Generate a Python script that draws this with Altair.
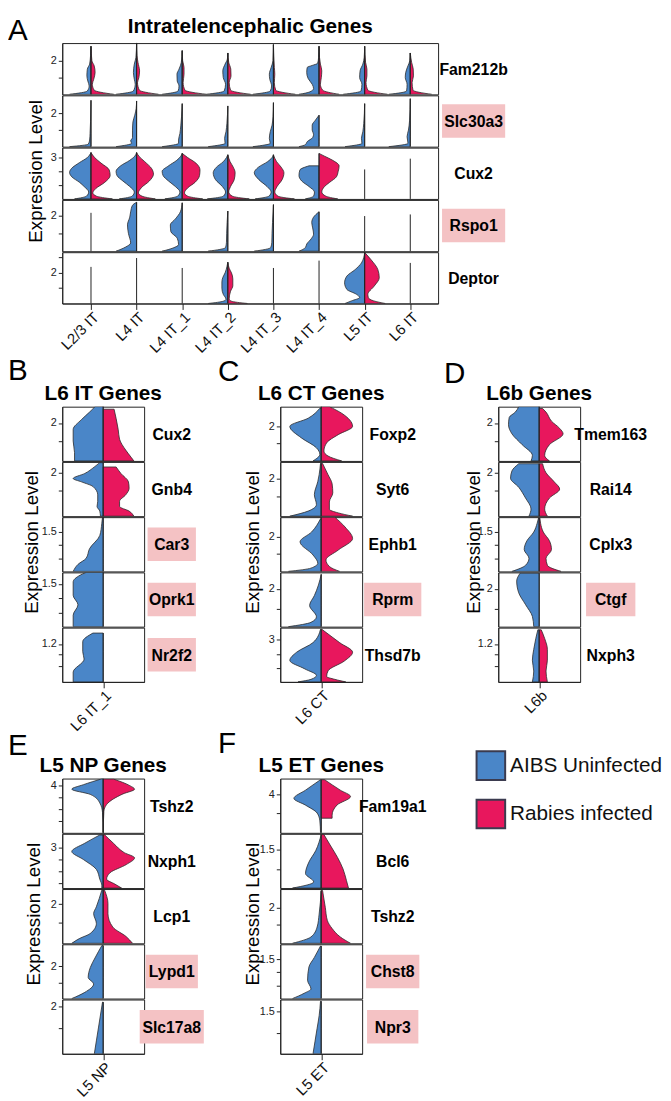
import json
import altair as alt
import pandas as pd

BLUE = "#4A86C8"
RED = "#E8175D"
PINK = "#F4C2C4"
INK = "#222222"
OUTLINE = "#2b2b2b"
FONT = "Liberation Sans"
GROUPS = ["AIBS Uninfected", "Rabies infected"]

# ---------------- Panel A ----------------
A_CLUSTERS = ["L2/3 IT", "L4 IT", "L4 IT_1", "L4 IT_2", "L4 IT_3", "L4 IT_4", "L5 IT", "L6 IT"]
A_GENES = ["Fam212b", "Slc30a3", "Cux2", "Rspo1", "Deptor"]
A_BOXES = {"Slc30a3": 64, "Rspo1": 64}
# gene: (low, high, tick values, labelled tick)
A_AXES = {
    "Fam212b": (0, 3.05, [1, 2], "2"),
    "Slc30a3": (0, 3.1, [1, 2], "2"),
    "Cux2": (1.5, 3.36, [2, 2.5, 3], "3"),
    "Rspo1": (0, 2.86, [1, 2], "2"),
    "Deptor": (0, 3.35, [1, 2, 3], "2"),
}
# violins: gene -> cluster -> (blue half [(level, width)], red half or None)
A_VIOLINS = {
    "Fam212b": {
        "L2/3 IT": ([(0, .47), (.2, .08), (.5, .04), (.8, .07), (1.1, .09), (1.5, .08), (1.8, .03), (2.3, .01), (2.86, 0)],
                    [(0, .5), (.25, .07), (.6, .03), (.9, .06), (1.3, .09), (1.7, .07), (2.0, .02), (2.86, 0)]),
        "L4 IT": ([(0, .45), (.2, .07), (.6, .03), (.9, .05), (1.3, .07), (1.8, .05), (2.2, .015), (3.06, 0)],
                  [(0, .48), (.25, .06), (.7, .02), (1.0, .05), (1.4, .065), (1.9, .03), (2.3, .01), (3.06, 0)]),
        "L4 IT_1": ([(0, .44), (.2, .09), (.5, .07), (.8, .11), (1.2, .115), (1.5, .07), (1.9, .02), (2.6, 0)],
                    [(0, .53), (.25, .06), (.7, .02), (1.2, .04), (1.6, .04), (2.0, .01), (2.6, 0)]),
        "L4 IT_2": ([(0, .47), (.2, .08), (.6, .05), (1.0, .1), (1.4, .11), (1.8, .06), (2.1, .01), (2.46, 0)],
                    [(0, .5), (.25, .06), (.7, .03), (1.1, .07), (1.5, .065), (1.9, .02), (2.46, 0)]),
        "L4 IT_3": ([(0, .45), (.2, .07), (.5, .04), (.9, .08), (1.2, .09), (1.6, .05), (2.0, .01), (2.96, 0)],
                    [(0, .48), (.25, .05), (.7, .02), (1.2, .03), (1.6, .02), (2.96, 0)]),
        "L4 IT_4": ([(0, .44), (.15, .2), (.35, .12), (.6, .15), (.95, .24), (1.3, .27), (1.6, .26), (1.72, .15), (1.85, .03), (2.2, .01), (2.86, 0)],
                    [(0, .44), (.25, .08), (.6, .03), (1.0, .05), (1.4, .06), (1.8, .03), (2.2, .01), (2.86, 0)]),
        "L5 IT": ([(0, .47), (.2, .08), (.6, .06), (1.0, .11), (1.4, .1), (1.8, .04), (2.2, .01), (2.86, 0)],
                  [(0, .5), (.25, .07), (.7, .03), (1.1, .05), (1.5, .05), (1.9, .02), (2.86, 0)]),
        "L6 IT": ([(0, .47), (.2, .08), (.6, .07), (1.0, .11), (1.3, .1), (1.7, .05), (2.0, .01), (2.46, 0)],
                  [(0, .47), (.25, .06), (.7, .04), (1.1, .07), (1.5, .065), (1.9, .03), (2.46, 0)]),
    },
    "Slc30a3": {
        "L2/3 IT": ([(0, .47), (.15, .06), (.4, .03), (.8, .02), (1.5, .01), (2.8, 0)], None),
        "L4 IT": ([(0, .45), (.2, .11), (.35, .13), (.55, .09), (1.0, .09), (1.5, .08), (1.9, .04), (2.3, .01), (2.76, 0)], None),
        "L4 IT_1": ([(0, .44), (.2, .08), (.4, .08), (.8, .05), (1.3, .03), (1.8, .015), (2.6, 0)], None),
        "L4 IT_2": ([(0, .43), (.2, .06), (.5, .07), (.9, .04), (1.4, .02), (2.46, 0)], None),
        "L4 IT_3": ([(0, .45), (.2, .07), (.5, .09), (.9, .07), (1.3, .03), (1.8, .01), (2.66, 0)], None),
        "L4 IT_4": ([(0, .44), (.12, .3), (.3, .26), (.55, .14), (.75, .12), (1.0, .15), (1.3, .15), (1.6, .08), (1.9, 0)], None),
        "L5 IT": ([(0, .43), (.2, .06), (.5, .07), (.9, .04), (1.4, .02), (2.6, 0)], None),
        "L6 IT": ([(0, .47), (.2, .05), (.6, .07), (1.0, .04), (1.6, .015), (2.9, 0)], None),
    },
    "Cux2": {
        "L2/3 IT": ([(1.5, .36), (1.6, .1), (1.75, .05), (1.95, .15), (2.1, .25), (2.3, .42), (2.46, .47), (2.6, .43), (2.82, .25), (3.0, .08), (3.18, 0)],
                    [(1.5, .47), (1.6, .12), (1.72, .04), (1.87, .1), (2.1, .3), (2.35, .42), (2.55, .4), (2.8, .22), (3.0, .08), (3.18, 0)]),
        "L4 IT": ([(1.5, .38), (1.6, .1), (1.75, .05), (1.95, .15), (2.15, .3), (2.35, .43), (2.5, .45), (2.7, .35), (2.9, .15), (3.05, .04), (3.18, 0)],
                  [(1.5, .41), (1.6, .12), (1.72, .04), (1.9, .1), (2.15, .28), (2.4, .37), (2.6, .33), (2.85, .18), (3.05, .05), (3.18, 0)]),
        "L4 IT_1": ([(1.5, .38), (1.6, .1), (1.75, .05), (1.95, .15), (2.15, .3), (2.35, .42), (2.5, .44), (2.7, .3), (2.9, .12), (3.05, .03), (3.15, 0)],
                    [(1.5, .45), (1.6, .12), (1.72, .05), (1.9, .12), (2.1, .28), (2.35, .38), (2.55, .39), (2.8, .3), (3.0, .12), (3.15, 0)]),
        "L4 IT_2": ([(1.5, .45), (1.6, .1), (1.75, .05), (1.95, .12), (2.2, .27), (2.45, .32), (2.65, .25), (2.85, .1), (3.0, .03), (3.1, 0)],
                    [(1.5, .47), (1.6, .1), (1.75, .02), (1.95, .06), (2.2, .14), (2.45, .16), (2.65, .12), (2.85, .05), (3.1, 0)]),
        "L4 IT_3": ([(1.5, .4), (1.6, .1), (1.75, .05), (1.95, .14), (2.2, .32), (2.45, .42), (2.65, .33), (2.85, .13), (3.0, .03), (3.1, 0)],
                    [(1.5, .46), (1.6, .1), (1.75, .03), (1.95, .08), (2.2, .19), (2.45, .23), (2.65, .17), (2.85, .07), (3.1, 0)]),
        "L4 IT_4": ([(1.5, .3), (1.6, .12), (1.75, .1), (1.95, .22), (2.15, .38), (2.35, .44), (2.55, .42), (2.7, .22)],
                    [(1.5, .41), (1.6, .15), (1.75, .06), (1.95, .12), (2.1, .23), (2.3, .38), (2.5, .42), (2.7, .44), (2.9, .3), (3.05, .12), (3.15, 0)]),
    },
    "Rspo1": {
        "L4 IT": ([(0, .45), (.22, .25), (.46, .13), (1.0, .18), (1.47, .2), (1.9, .15), (2.2, .13), (2.56, .09), (2.73, 0)], None),
        "L4 IT_1": ([(0, .44), (.18, .2), (.37, .08), (.73, .11), (1.1, .25), (1.47, .26), (1.8, .15), (2.2, .04), (2.7, 0)], None),
        "L4 IT_2": ([(0, .43), (.2, .05), (.5, .03), (1.0, .025), (1.6, .015), (2.24, 0)], None),
        "L4 IT_3": ([(0, .42), (.2, .06), (.5, .035), (1.0, .03), (1.6, .02), (2.6, 0)], None),
        "L4 IT_4": ([(0, .44), (.2, .3), (.4, .27), (.7, .17), (.95, .12), (1.3, .14), (1.6, .16), (1.9, .12), (2.2, 0)], None),
    },
    "Deptor": {
        "L4 IT_2": ([(0, .43), (.15, .1), (.28, .04), (.6, .1), (1.0, .13), (1.4, .13), (1.7, .11), (2.0, .06), (2.4, .02), (2.69, 0)],
                    [(0, .43), (.15, .08), (.3, .03), (.8, .06), (1.16, .11), (1.6, .11), (2.0, .08), (2.3, .03), (2.69, 0)]),
        "L5 IT": ([(0, .43), (.17, .29), (.39, .11), (.6, .18), (.92, .39), (1.35, .44), (1.79, .39), (2.21, .21), (2.65, .07), (3.0, .02), (3.33, 0)],
                  [(0, .45), (.17, .2), (.39, .08), (.6, .07), (1.14, .21), (1.68, .32), (2.21, .29), (2.86, .14), (3.33, 0)]),
    },
}
# clusters with no expression: only the centre line, up to this level
A_LINES = {
    "Cux2": {"L5 IT": 2.57, "L6 IT": 2.96},
    "Rspo1": {"L2/3 IT": 2.14, "L5 IT": 1.96, "L6 IT": 2.05},
    "Deptor": {"L2/3 IT": 2.39, "L4 IT": 2.97, "L4 IT_1": 2.32, "L4 IT_3": 2.32, "L4 IT_4": 2.8, "L6 IT": 2.65},
}

# ---------------- Panel B ----------------
B_CLUSTER = "L6 IT_1"
B_GENES = ["Cux2", "Gnb4", "Car3", "Oprk1", "Nr2f2"]
B_BOXES = {"Car3": 49, "Oprk1": 49, "Nr2f2": 49}
B_AXES = {
    "Cux2": (0.95, 2.45, [1.5, 2.0], "2"),
    "Gnb4": (0.8, 2.3, [1.5, 2.0], "2"),
    "Car3": (1.05, 1.67, [1.2, 1.35, 1.5], "1.5"),
    "Oprk1": (1.05, 1.62, [1.2, 1.35, 1.5], "1.5"),
    "Nr2f2": (0.85, 1.35, [1.0, 1.1, 1.2], "1.2"),
}
B_VIOLINS = {
    "Cux2": ([(0.95, .42), (1.18, .42), (1.5, .44), (1.82, .44), (2.09, .32), (2.3, .2), (2.45, .12)],
             [(0.95, .45), (1.05, .41), (1.25, .33), (1.55, .24), (1.82, .22), (2.12, .19), (2.38, .16)]),
    "Gnb4": ([(0.8, .04), (0.94, .05), (1.07, .09), (1.21, .08), (1.39, .08), (1.62, .15), (1.75, .32), (1.84, .44), (1.98, .27), (2.16, .13), (2.28, .05)],
             [(0.8, .45), (0.94, .38), (1.07, .24), (1.21, .24), (1.39, .33), (1.57, .38), (1.75, .37), (1.98, .26), (2.16, .19)]),
    "Car3": ([(1.05, .44), (1.13, .37), (1.2, .25), (1.31, .2), (1.46, .05), (1.6, .02), (1.67, .01)], None),
    "Oprk1": ([(1.05, .44), (1.17, .44), (1.28, .37), (1.38, .44), (1.52, .44), (1.59, .34), (1.62, .25)], None),
    "Nr2f2": ([(0.85, .44), (0.94, .44), (1.06, .28), (1.13, .3), (1.22, .3), (1.3, .15)], None),
}

# ---------------- Panel C ----------------
C_CLUSTER = "L6 CT"
C_GENES = ["Foxp2", "Syt6", "Ephb1", "Rprm", "Thsd7b"]
C_BOXES = {"Rprm": 58}
C_AXES = {
    "Foxp2": (0.95, 2.6, [1.5, 2.0], "2"),
    "Syt6": (0.96, 2.45, [1.5, 2.0], "2"),
    "Ephb1": (0.95, 2.6, [1.5, 2.0], "2"),
    "Rprm": (1.04, 2.42, [1.5, 2.0], "2"),
    "Thsd7b": (1.51, 3.43, [2.0, 2.5, 3.0], "3"),
}
C_VIOLINS = {
    "Foxp2": ([(0.95, .12), (1.15, .02), (1.35, .07), (1.65, .29), (2.0, .46), (2.25, .19), (2.55, .02)],
              [(0.95, .3), (1.1, .1), (1.25, .04), (1.5, .08), (1.75, .25), (2.0, .46), (2.4, .3), (2.6, .12)]),
    "Syt6": ([(0.96, .46), (1.1, .19), (1.28, .07), (1.55, .1), (1.91, .05), (2.1, .03), (2.41, .01)],
             [(0.96, .46), (1.05, .25), (1.15, .12), (1.35, .12), (1.6, .17), (1.85, .16), (2.1, .1), (2.41, .02)]),
    "Ephb1": ([(0.95, .48), (1.05, .15), (1.2, .05), (1.45, .12), (1.85, .31), (2.15, .14), (2.55, .01)],
              [(0.95, .27), (1.1, .12), (1.3, .07), (1.6, .25), (1.95, .46), (2.3, .35), (2.6, .2)]),
    "Rprm": ([(1.04, .48), (1.15, .15), (1.29, .07), (1.58, .17), (1.83, .1), (2.1, .04), (2.37, 0)], None),
    "Thsd7b": ([(1.51, .34), (1.6, .15), (1.74, .07), (1.97, .24), (2.27, .46), (2.56, .36), (2.9, .12), (3.37, .01)],
               [(1.51, .36), (1.6, .2), (1.7, .08), (1.9, .1), (2.25, .34), (2.56, .46), (2.9, .27), (3.37, .01)]),
}

# ---------------- Panel D ----------------
D_CLUSTER = "L6b"
D_GENES = ["Tmem163", "Rai14", "Cplx3", "Ctgf", "Nxph3"]
D_BOXES = {"Ctgf": 50}
D_AXES = {
    "Tmem163": (0.95, 2.45, [1.5, 2.0], "2"),
    "Rai14": (0.8, 2.3, [1.5, 2.0], "2"),
    "Cplx3": (1.05, 1.67, [1.2, 1.35, 1.5], "1.5"),
    "Ctgf": (1.04, 2.42, [1.5, 2.0], "2"),
    "Nxph3": (0.85, 1.35, [1.0, 1.1, 1.2], "1.2"),
}
D_VIOLINS = {
    "Tmem163": ([(0.95, .12), (1.1, .1), (1.4, .25), (1.7, .4), (1.95, .45), (2.15, .44), (2.3, .35), (2.45, .3)],
                [(0.95, .15), (1.1, .08), (1.4, .15), (1.7, .35), (1.85, .3), (2.05, .18), (2.3, .1), (2.4, .05)]),
    "Rai14": ([(0.8, .15), (1.0, .12), (1.3, .2), (1.6, .3), (1.85, .42), (2.05, .4), (2.25, .3)],
              [(0.8, .12), (1.0, .08), (1.3, .15), (1.55, .3), (1.75, .22), (2.0, .1), (2.25, .05)]),
    "Cplx3": ([(1.05, .4), (1.12, .2), (1.2, .15), (1.3, .22), (1.4, .18), (1.5, .08), (1.6, .03), (1.66, .01)],
              [(1.05, .32), (1.12, .12), (1.2, .1), (1.3, .18), (1.4, .15), (1.5, .06), (1.6, .02), (1.66, .01)]),
    "Ctgf": ([(1.04, .08), (1.3, .1), (1.6, .2), (1.9, .3), (2.2, .33), (2.4, .28)], None),
    "Nxph3": ([(0.85, .1), (0.95, .08), (1.05, .1), (1.15, .08), (1.25, .05), (1.33, .02)],
              [(0.85, .12), (0.95, .1), (1.05, .12), (1.15, .12), (1.25, .08), (1.33, .03)]),
}

# ---------------- Panel E ----------------
E_CLUSTER = "L5 NP"
E_GENES = ["Tshz2", "Nxph1", "Lcp1", "Lypd1", "Slc17a8"]
E_BOXES = {"Lypd1": 53, "Slc17a8": 65}
E_AXES = {
    "Tshz2": (2.0, 4.3, [2.5, 3.0, 3.5, 4.0], "4"),
    "Nxph1": (1.3, 3.6, [1.5, 2.0, 2.5, 3.0], "3"),
    "Lcp1": (0.92, 2.42, [1.5, 2.0], "2"),
    "Lypd1": (1.0, 2.67, [1.5, 2.0], "2"),
    "Slc17a8": (0.9, 2.16, [1.5, 2.0], "2"),
}
E_VIOLINS = {
    "Tshz2": ([(2.0, 0), (2.86, .01), (3.27, .05), (3.63, .19), (3.85, .46), (4.04, .29), (4.29, .02)],
              [(2.0, 0), (2.9, .01), (3.2, .05), (3.65, .29), (3.85, .46), (4.0, .39), (4.28, .15)]),
    "Nxph1": ([(1.3, .02), (1.4, .02), (1.68, .05), (2.09, .1), (2.51, .29), (2.85, .46), (3.2, .27), (3.55, .05)],
              [(1.3, .27), (1.47, .17), (1.68, .05), (1.95, .1), (2.3, .34), (2.58, .46), (2.8, .31), (3.2, .15), (3.56, .02)]),
    "Lcp1": ([(0.92, .46), (1.05, .35), (1.19, .19), (1.47, .1), (1.74, .14), (1.93, .1), (2.39, .02)],
             [(0.92, .43), (1.1, .34), (1.37, .14), (1.74, .07), (2.02, .07), (2.39, .02)]),
    "Lypd1": ([(1.0, .46), (1.19, .27), (1.45, .14), (1.65, .22), (1.95, .19), (2.25, .12), (2.63, .02)], None),
    "Slc17a8": ([(0.9, .13), (1.2, .1), (1.5, .07), (1.8, .04), (2.1, .01)], None),
}

# ---------------- Panel F ----------------
F_CLUSTER = "L5 ET"
F_GENES = ["Fam19a1", "Bcl6", "Tshz2", "Chst8", "Npr3"]
F_BOXES = {"Chst8": 54, "Npr3": 52}
F_AXES = {
    "Fam19a1": (2.98, 4.43, [3.5, 4.0], "4"),
    "Bcl6": (1.0, 1.71, [1.25, 1.5], "1.5"),
    "Tshz2": (0.98, 2.52, [1.5, 2.0], "2"),
    "Chst8": (1.05, 1.67, [1.2, 1.35, 1.5], "1.5"),
    "Npr3": (1.0, 1.64, [1.25, 1.5], "1.5"),
}
F_VIOLINS = {
    "Fam19a1": ([(2.98, .01), (3.3, .02), (3.51, .06), (3.72, .23), (3.9, .4), (4.12, .23), (4.4, .01)],
                [(3.37, .16), (3.45, .16), (3.72, .23), (3.95, .43), (4.12, .28), (4.4, .05)]),
    "Bcl6": ([(1.0, .42), (1.08, .11), (1.19, .23), (1.34, .18), (1.49, .08), (1.7, 0)],
             [(1.0, .4), (1.1, .37), (1.25, .32), (1.4, .24), (1.55, .14), (1.7, .04)]),
    "Tshz2": ([(0.98, .42), (1.16, .15), (1.44, .06), (1.81, .03), (2.46, 0)],
              [(0.98, .43), (1.16, .28), (1.4, .16), (1.63, .09), (2.0, .06), (2.48, .02)]),
    "Chst8": ([(1.05, .42), (1.11, .25), (1.16, .15), (1.26, .2), (1.41, .18), (1.52, .1), (1.65, .01)], None),
    "Npr3": ([(1.0, .12), (1.15, .09), (1.3, .06), (1.45, .03), (1.62, .01)], None),
}

# ---------------- builders ----------------
CSCALE = alt.Scale(domain=GROUPS, range=[BLUE, RED])
LEGEND = alt.Legend(title=None, orient="none", legendX=474, legendY=717, direction="vertical",
                    symbolType="square", symbolSize=841, symbolStrokeColor="#3b3b4f",
                    symbolStrokeWidth=2, symbolOpacity=1, labelFontSize=21, labelFont=FONT,
                    labelColor="#111111", rowPadding=12, labelOffset=4, labelLimit=300)


def text_layer(s, x, y, size, weight="normal", align="left", baseline="top", angle=0):
    return alt.Chart(pd.DataFrame({"t": [s]})).mark_text(
        fontSize=size, fontWeight=weight, align=align, baseline=baseline, angle=angle,
        color="#000000", font=FONT
    ).encode(text="t:N", x=alt.value(x), y=alt.value(y))


def guard(x1, x2, y1, y2):
    # invisible box that fixes how far a cell reaches, so the layout is predictable
    return alt.Chart(pd.DataFrame({"t": [0]})).mark_rect(opacity=0).encode(
        x=alt.value(x1), x2=alt.value(x2), y=alt.value(y1), y2=alt.value(y2))


def make_row(gene, clusters, violins, lines, axis_spec, W, H, bottom, box_w, dx, extra):
    lo, hi, ticks, lab = axis_spec
    n = len(clusters)
    xdom = [-0.63, n - 1 + 0.61] if n > 1 else [-0.6, 0.6]
    xs = alt.Scale(domain=xdom, nice=False, zero=False)
    ys = alt.Scale(domain=[lo, hi], nice=False, zero=False)
    pts, rules = [], []
    for i, cl in enumerate(clusters):
        if cl in violins:
            blue, red = violins[cl]
            top = lo
            for grp, prof, sgn in ((GROUPS[0], blue, -1), (GROUPS[1], red, 1)):
                if not prof:
                    continue
                for lev, w in prof:
                    pts.append({"cid": f"{cl}|{grp}", "grp": grp, "level": lev,
                                "xl": i - w if sgn < 0 else i, "xr": i if sgn < 0 else i + w})
                    top = max(top, lev)
            rules.append({"cx": i, "lo": lo, "top": top})
        elif cl in lines:
            rules.append({"cx": i, "lo": lo, "top": lines[cl]})
    if bottom:
        xaxis = alt.Axis(values=list(range(n)), labelExpr=f"{json.dumps(clusters)}[datum.value]",
                         title=None, labelAngle=-45, labelFontSize=15, tickSize=6, grid=False,
                         labelPadding=0, labelFont=FONT, labelColor="#111111", labelOverlap=False)
    else:
        xaxis = None
    yaxis = alt.Axis(values=ticks, labelExpr=f"datum.value == {float(lab)} ? '{lab}' : ''",
                     title=None, tickSize=4, labelFontSize=11, grid=False, labelPadding=2,
                     labelFont=FONT, labelColor="#222222", labelOverlap=False)
    layers = []
    if pts:
        df = pd.DataFrame(pts).sort_values(["cid", "level"])
        layers.append(alt.Chart(df).mark_area(
            orient="horizontal", interpolate="monotone", stroke=OUTLINE, strokeWidth=0.8, clip=True
        ).encode(
            y=alt.Y("level:Q", scale=ys, axis=yaxis),
            x=alt.X("xl:Q", scale=xs, axis=xaxis, stack=None),
            x2="xr:Q",
            color=alt.Color("grp:N", scale=CSCALE, legend=LEGEND),
            detail="cid:N",
        ))
    layers.append(alt.Chart(pd.DataFrame(rules)).mark_rule(color=INK, strokeWidth=1).encode(
        x=alt.X("cx:Q", scale=xs, axis=xaxis),
        y=alt.Y("lo:Q", scale=ys, axis=yaxis),
        y2="top:Q",
    ))
    cx = W + dx
    if gene in box_w:
        bw = box_w[gene]
        layers.append(alt.Chart(pd.DataFrame({"t": [gene]})).mark_rect(color=PINK).encode(
            x=alt.value(cx - bw / 2), x2=alt.value(cx + bw / 2),
            y=alt.value(H / 2 - 17), y2=alt.value(H / 2 + 17)))
    layers.append(text_layer(gene, cx, H / 2 + 1, 16, "bold", "center", "middle"))
    layers.extend(extra)
    return alt.layer(*layers).properties(width=W, height=H)


def make_panel(letter, title, clusters, genes, violins, lines, axes, boxes, W, H, dx,
               letter_x, letter_y, title_y, ytitle_x, top_guard, right_guard, bottom_guard):
    rows = []
    for k, g in enumerate(genes):
        extra = []
        if k == 0:
            extra.append(text_layer(title, W / 2, title_y, 21, "bold", "center", "alphabetic"))
            extra.append(guard(-26, right_guard, top_guard, 0))
        if k == len(genes) - 1 and bottom_guard:
            extra.append(guard(0, 1, H, H + bottom_guard))
        rows.append(make_row(g, clusters, violins.get(g, {}), lines.get(g, {}), axes[g], W, H,
                             k == len(genes) - 1, boxes, dx, extra))
    right = alt.vconcat(*rows, spacing=-3)
    left = alt.layer(
        text_layer(letter, letter_x, letter_y, 30),
        text_layer("Expression Level", ytitle_x, len(genes) * H / 2, 19, "normal", "center",
                   "middle", 270),
        guard(0, 40, 0, 1),
    ).properties(width=1, height=len(genes) * H,
                 view=alt.ViewBackground(strokeOpacity=0, strokeWidth=0))
    return alt.hconcat(left, right, spacing=-12)


def single(violins, cluster):
    return {g: {cluster: v} for g, v in violins.items()}


panelA = make_panel("A", "Intratelencephalic Genes", A_CLUSTERS, A_GENES, A_VIOLINS, A_LINES,
                    A_AXES, A_BOXES, 381, 52, 36, 0, -27, -10, 28, -27, 382, 70)
panelB = make_panel("B", "L6 IT Genes", [B_CLUSTER], B_GENES, single(B_VIOLINS, B_CLUSTER), {},
                    B_AXES, B_BOXES, 83, 55, 28, 0, -51, -7, 24, -60, 150, 60)
panelC = make_panel("C", "L6 CT Genes", [C_CLUSTER], C_GENES, single(C_VIOLINS, C_CLUSTER), {},
                    C_AXES, C_BOXES, 83, 55, 31, -8, -50, -7, 27, -60, 158, 60)
panelD = make_panel("D", "L6b Genes", [D_CLUSTER], D_GENES, single(D_VIOLINS, D_CLUSTER), {},
                    D_AXES, D_BOXES, 83, 55, 31, 0, -48, -7, 30, -60, 150, 60)
panelE = make_panel("E", "L5 NP Genes", [E_CLUSTER], E_GENES, single(E_VIOLINS, E_CLUSTER), {},
                    E_AXES, E_BOXES, 83, 55, 28, 0, -48, -7, 26, -60, 150, 0)
panelF = make_panel("F", "L5 ET Genes", [F_CLUSTER], F_GENES, single(F_VIOLINS, F_CLUSTER), {},
                    F_AXES, F_BOXES, 83, 55, 31, -8, -50, -7, 27, -60, 150, 0)

rowBCD = alt.hconcat(panelB, panelC, panelD, spacing=7)
rowEF = alt.hconcat(panelE, panelF, spacing=7)
lower = alt.vconcat(rowBCD, rowEF, spacing=-24)

chart = alt.vconcat(panelA, lower, spacing=-27.4).properties(
    padding=0
).configure(font=FONT).configure_view(stroke=INK, strokeWidth=1).configure_axis(
    domainColor=INK, tickColor=INK, domainWidth=1, tickWidth=1
)

chart.save("out.html", embed_options={"renderer": "svg", "actions": False})
